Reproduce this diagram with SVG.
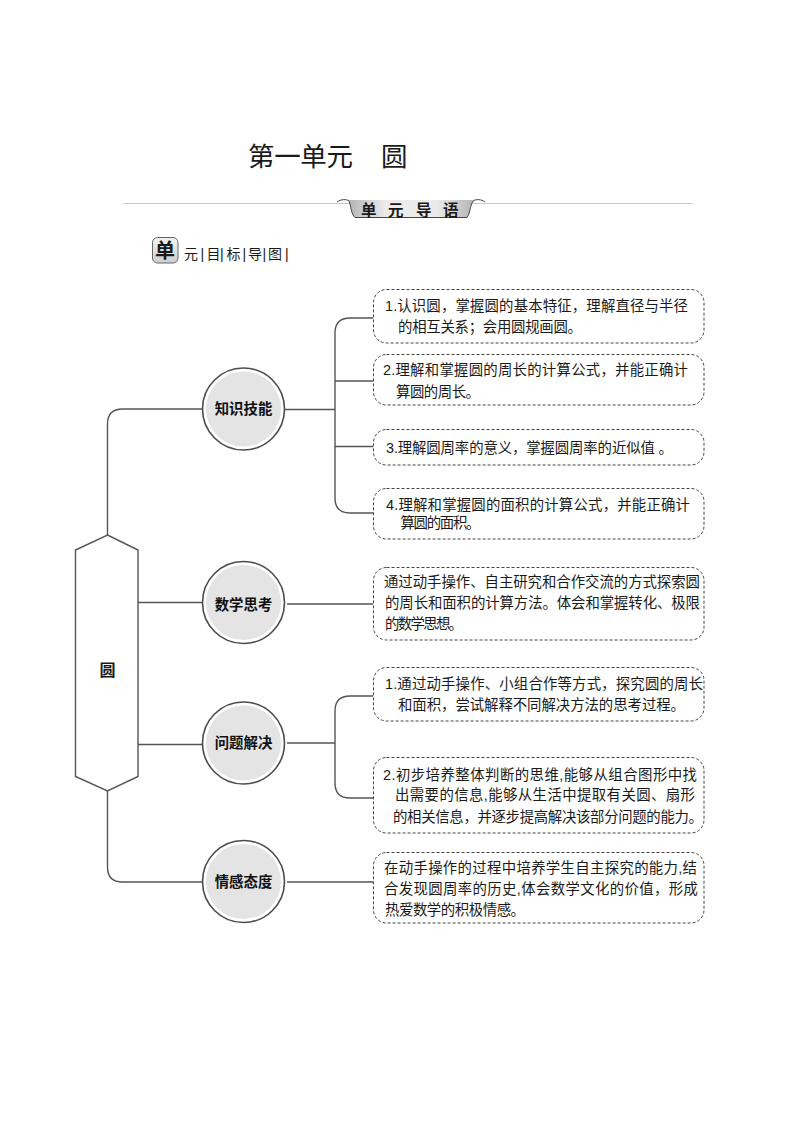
<svg xmlns="http://www.w3.org/2000/svg" width="794" height="1123" viewBox="0 0 794 1123">
<style>
text{font-family:"Liberation Sans","Noto Sans CJK SC",sans-serif;fill:#1a1a1a}
.c{fill:none;stroke:#555;stroke-width:1.4}
.box{fill:#fff;stroke:#444;stroke-width:1;stroke-dasharray:3 2}
.t{font-size:14.4px}
.n{font-size:14.4px;font-weight:700;text-anchor:middle;fill:#111}
.o{fill:#fff;stroke:#4d4d4d;stroke-width:1.6}
.i{fill:#e4e4e4}
</style>
<defs>
<linearGradient id="rib" x1="0" y1="0" x2="1" y2="0">
<stop offset="0" stop-color="#b5b5b5"/><stop offset=".3" stop-color="#ececec"/><stop offset=".7" stop-color="#ececec"/><stop offset="1" stop-color="#b5b5b5"/>
</linearGradient>
<linearGradient id="bad" x1="0" y1="0" x2="0" y2="1">
<stop offset="0" stop-color="#f2f2f2"/><stop offset="1" stop-color="#cfcfcf"/>
</linearGradient>
</defs>
<g id="header">
<text x="248" y="166" font-size="26.5" textLength="105" lengthAdjust="spacing" fill="#111">第一单元</text>
<text x="381" y="166" font-size="26.5" fill="#111">圆</text>
<line x1="123" y1="203.500" x2="693" y2="203.500" stroke="#c8c8c8" stroke-width="1.200"/>
<path d="M337 202C341 199 347 199 349 201C351 206 351 214 355 217.500H467C470 214 470 206 473 201C476 199 481 199 485 202V190H337Z" fill="#fff"/>
<path d="M349 200H473C470 206 470 214 467 217.500H355C351 214 351 206 349 200Z" fill="url(#rib)"/>
<path d="M337 202C341 199 347 199 349 201C351 206 351 214 355 217.500H467C470 214 470 206 473 201C476 199 481 199 485 202" fill="none" stroke="#444" stroke-width="1"/>
<text x="361 388 416 443" y="215.500" font-size="15.500" font-weight="700" fill="#111">单元导语</text>
<rect x="152.500" y="237.500" width="25.500" height="25.500" rx="5" fill="url(#bad)" stroke="#666" stroke-width="1"/>
<text x="165" y="257.500" font-size="20" font-weight="700" text-anchor="middle" fill="#111">单</text>
<text x="184 200.500 206.500 220 226.500 242.500 248 262.500 268 285" y="259" font-size="14" fill="#222">元|目|标|导|图|</text>
</g>
<g id="connectors">
<path class="c" d="M107.500 535V424Q107.500 409 122.500 409H203"/>
<path class="c" d="M107.500 791V867Q107.500 882 122.500 882H203"/>
<path class="c" d="M138 602.500H203"/>
<path class="c" d="M138 744.500H203"/>
<path class="c" d="M285 409.500H335"/>
<path class="c" d="M373 318H350Q335 318 335 333V498Q335 513 350 513H373"/>
<path class="c" d="M335 381H373"/>
<path class="c" d="M335 446.500H373"/>
<path class="c" d="M287 604H373"/>
<path class="c" d="M287 743H335"/>
<path class="c" d="M373 696H350Q335 696 335 711V783Q335 798 350 798H373"/>
<path class="c" d="M287 882H373"/>
</g>
<g id="root">
<path d="M107.500 535L138 550V776.500L107.500 791L75.500 776.500V550Z" fill="#fff" stroke="#555" stroke-width="1.400"/>
<text x="107.500" y="676" font-size="16" font-weight="700" text-anchor="middle" fill="#111">圆</text>
</g>
<g id="node-zhishi"><circle class="o" cx="243.500" cy="409" r="41"/><circle class="i" cx="243.500" cy="409" r="37.500"/><text class="n" x="243.500" y="414">知识技能</text></g>
<g id="node-sikao"><circle class="o" cx="243.500" cy="602.500" r="41"/><circle class="i" cx="243.500" cy="602.500" r="37.500"/><text class="n" x="243.500" y="609.500">数学思考</text></g>
<g id="node-jiejue"><circle class="o" cx="243.500" cy="743" r="41"/><circle class="i" cx="243.500" cy="743" r="37.500"/><text class="n" x="243.500" y="747.500">问题解决</text></g>
<g id="node-taidu"><circle class="o" cx="243.500" cy="881.500" r="41"/><circle class="i" cx="243.500" cy="881.500" r="37.500"/><text class="n" x="243.500" y="887">情感态度</text></g>
<g id="box-1"><rect class="box" x="373.500" y="289.500" width="330.500" height="53.500" rx="13"/>
<text class="t" x="385" y="311" textLength="303">1.认识圆，掌握圆的基本特征，理解直径与半径</text>
<text class="t" x="398" y="332" textLength="184">的相互关系；会用圆规画圆。</text></g>
<g id="box-2"><rect class="box" x="373.500" y="354.500" width="330.500" height="50.500" rx="13"/>
<text class="t" x="383" y="375" textLength="305">2.理解和掌握圆的周长的计算公式，并能正确计</text>
<text class="t" x="396" y="397" textLength="84">算圆的周长。</text></g>
<g id="box-3"><rect class="box" x="373.500" y="429.500" width="330.500" height="35.500" rx="13"/>
<text class="t" x="386" y="453" textLength="287">3.理解圆周率的意义，掌握圆周率的近似值 。</text></g>
<g id="box-4"><rect class="box" x="373.500" y="488.500" width="330.500" height="50.500" rx="13"/>
<text class="t" x="386" y="510" textLength="304">4.理解和掌握圆的面积的计算公式，并能正确计</text>
<text class="t" x="400.500" y="528" textLength="80">算圆的面积。</text></g>
<g id="box-5"><rect class="box" x="373.500" y="567.500" width="330.500" height="72.500" rx="13"/>
<text class="t" x="384" y="587" textLength="316">通过动手操作、自主研究和合作交流的方式探索圆</text>
<text class="t" x="385" y="608" textLength="315">的周长和面积的计算方法。体会和掌握转化、极限</text>
<text class="t" x="385" y="629" textLength="78">的数学思想。</text></g>
<g id="box-6"><rect class="box" x="373.500" y="667.500" width="330.500" height="53.500" rx="13"/>
<text class="t" x="385" y="689" textLength="318">1.通过动手操作、小组合作等方式，探究圆的周长</text>
<text class="t" x="398" y="710" textLength="287">和面积，尝试解释不同解决方法的思考过程。</text></g>
<g id="box-7"><rect class="box" x="373.500" y="757.500" width="330.500" height="75.500" rx="13"/>
<text class="t" x="383" y="780" textLength="314">2.初步培养整体判断的思维,能够从组合图形中找</text>
<text class="t" x="395" y="800" textLength="300">出需要的信息,能够从生活中提取有关圆、扇形</text>
<text class="t" x="393" y="822" textLength="310">的相关信息，并逐步提高解决该部分问题的能力。</text></g>
<g id="box-8"><rect class="box" x="373.500" y="852.500" width="330.500" height="70.500" rx="13"/>
<text class="t" x="384" y="873" textLength="313">在动手操作的过程中培养学生自主探究的能力,结</text>
<text class="t" x="384" y="893.500" textLength="314">合发现圆周率的历史,体会数学文化的价值，形成</text>
<text class="t" x="385" y="914.500" textLength="140">热爱数学的积极情感。</text></g>
</svg>
